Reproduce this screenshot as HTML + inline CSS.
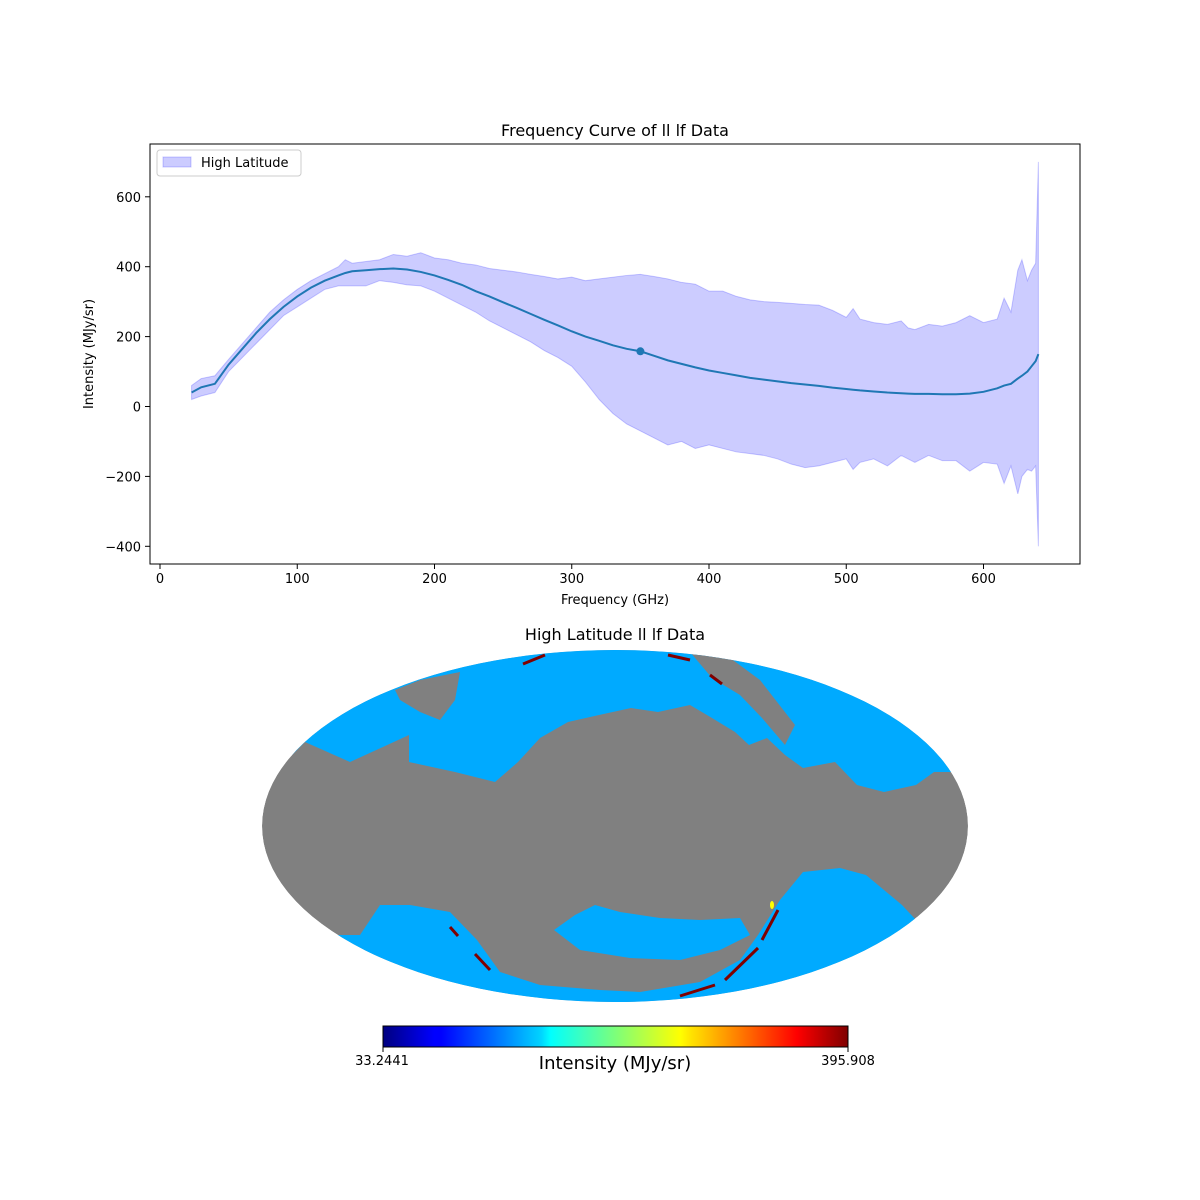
<!DOCTYPE html>
<html><head><meta charset="utf-8"><style>
html,body{margin:0;padding:0;background:#fff;}
svg{display:block;font-family:"DejaVu Sans","Liberation Sans",sans-serif;}
</style></head><body>
<svg id="chart" width="1200" height="1200" viewBox="0 0 1200 1200" xmlns="http://www.w3.org/2000/svg">
<defs>
<linearGradient id="jet" x1="0" x2="1" y1="0" y2="0">
<stop offset="0" stop-color="#00007f"/><stop offset="0.11" stop-color="#0000ff"/><stop offset="0.125" stop-color="#0000ff"/>
<stop offset="0.34" stop-color="#00d4ff"/><stop offset="0.36" stop-color="#0ff"/><stop offset="0.5" stop-color="#7dff7a"/>
<stop offset="0.64" stop-color="#ff0"/><stop offset="0.66" stop-color="#ffe600"/><stop offset="0.89" stop-color="#ff0000"/><stop offset="1" stop-color="#7f0000"/>
</linearGradient>
<clipPath id="ell"><ellipse cx="615" cy="826" rx="353" ry="176"/></clipPath>
<clipPath id="plotclip"><rect x="150" y="144" width="930" height="420"/></clipPath>
</defs>
<text x="615" y="136" text-anchor="middle" font-size="16">Frequency Curve of ll lf Data</text>
<g id="plot"></g>
<rect x="150" y="144" width="930" height="420" fill="none" stroke="#000" stroke-width="1"/>
<g id="xticks"></g>
<g id="yticks"></g>
<text x="615" y="604" text-anchor="middle" font-size="13">Frequency (GHz)</text>
<text transform="translate(93,354) rotate(-90)" text-anchor="middle" font-size="13">Intensity (MJy/sr)</text>
<g>
<rect x="157" y="150" width="144" height="26" rx="3" fill="#fff" fill-opacity="0.8" stroke="#ccc"/>
<rect x="163" y="157" width="28" height="10" fill="#0000ff" fill-opacity="0.2" stroke="#0000ff" stroke-opacity="0.2"/>
<text x="201" y="167" font-size="13">High Latitude</text>
</g>

<text x="615" y="640" text-anchor="middle" font-size="16">High Latitude ll lf Data</text>
<g clip-path="url(#ell)">
<ellipse cx="615" cy="826" rx="353" ry="176" fill="#808080"/>
<polygon fill="#00aaff" points="250,640 1000,640 1000,772 934,772 916,785 884,792 857,785 835,762 803,768 785,755 767,738 749,745 735,732 712,718 690,705 658,712 631,708 599,715 568,722 540,738 518,762 495,782 455,772 409,762 409,735 350,762 305,742 292,755 250,755"/>
<polygon fill="#808080" points="395,690 420,680 460,672 455,700 440,720 420,712 400,700"/>
<polygon fill="#808080" points="690,652 722,652 760,680 795,725 785,745 762,718 740,695 712,678"/>
<polygon fill="#00aaff" points="250,1010 250,935 360,935 380,905 410,905 450,912 477,940 500,972 540,985 600,990 640,992 700,982 740,960 758,935 780,900 803,872 840,868 866,875 902,905 930,935 980,935 980,1010"/>
<polygon fill="#00aaff" points="554,930 575,915 595,905 620,912 660,918 700,920 740,918 750,935 720,950 680,960 630,958 580,950"/>
<g stroke="#800000" stroke-width="3">
<line x1="523" y1="664" x2="545" y2="655"/><line x1="668" y1="655" x2="690" y2="660"/><line x1="710" y1="675" x2="722" y2="684"/>
<line x1="778" y1="910" x2="762" y2="940"/><line x1="758" y1="948" x2="725" y2="980"/><line x1="715" y1="985" x2="680" y2="996"/>
<line x1="450" y1="927" x2="458" y2="936"/><line x1="475" y1="954" x2="490" y2="970"/>
</g>
<ellipse cx="772" cy="905" rx="2" ry="4" fill="#ff0"/>
</g>
<rect x="383" y="1026" width="465" height="21" fill="url(#jet)" stroke="#000" stroke-width="1"/>
<line x1="383" y1="1047" x2="383" y2="1052" stroke="#000"/><line x1="848" y1="1047" x2="848" y2="1052" stroke="#000"/>
<text x="382" y="1065" text-anchor="middle" font-size="13">33.2441</text>
<text x="848" y="1065" text-anchor="middle" font-size="13">395.908</text>
<text x="615" y="1069" text-anchor="middle" font-size="18">Intensity (MJy/sr)</text>
</svg>
<script>
const freq=[23,30,40,50,60,70,80,90,100,110,120,130,135,140,150,160,170,180,190,200,210,220,230,240,250,260,270,280,290,300,310,320,330,340,350,360,370,380,390,400,410,420,430,440,450,460,470,480,490,500,505,510,520,530,540,545,550,560,570,580,590,600,610,615,620,625,628,632,635,638,640];
const meanVals=[40,55,65,120,165,210,250,285,315,340,360,375,382,387,390,393,395,392,385,375,362,348,330,315,298,282,265,248,232,215,200,188,175,165,158,145,132,122,112,103,96,89,82,77,72,67,63,59,54,50,48,46,43,40,38,37,36,36,35,35,37,42,52,60,65,80,88,100,115,130,150];
const upperVals=[60,80,88,135,180,225,270,305,335,360,380,400,420,410,415,420,435,430,440,425,420,410,405,395,390,385,378,372,365,370,360,365,370,375,378,372,365,355,350,330,330,315,305,300,298,295,292,290,275,255,280,250,240,235,245,225,220,235,230,240,260,240,250,310,270,390,420,360,390,410,700];
const lowerVals=[20,30,40,100,140,180,220,260,285,310,335,345,345,345,345,360,355,348,345,330,310,290,270,245,225,205,185,160,140,115,70,20,-20,-50,-70,-90,-110,-100,-120,-110,-120,-130,-135,-140,-150,-165,-175,-170,-160,-150,-180,-160,-150,-170,-140,-150,-160,-140,-155,-155,-185,-160,-165,-220,-170,-250,-200,-180,-185,-170,-400];
const xTicks=[0,100,200,300,400,500,600];
const yTicks=[-400,-200,0,200,400,600];
const markerFreq=[350];
const markerVal=[158];

const NS='http://www.w3.org/2000/svg';
const xs=f=>160+f*1.3725;
const ys=v=>406.5-v*0.3495;
function mk(tag,attrs,parent){const e=document.createElementNS(NS,tag);for(const k in attrs)e.setAttribute(k,attrs[k]);parent.appendChild(e);return e;}
const plot=document.getElementById('plot');
plot.setAttribute('clip-path','url(#plotclip)');
let d='M'+freq.map((f,i)=>xs(f)+','+ys(upperVals[i])).join('L');
for(let i=freq.length-1;i>=0;i--)d+='L'+xs(freq[i])+','+ys(lowerVals[i]);
d+='Z';
const band=mk('path',{d:d,fill:'#0000ff','fill-opacity':'0.2',stroke:'#0000ff','stroke-opacity':'0.2'},plot);


const line=mk('path',{d:'M'+freq.map((f,i)=>xs(f)+','+ys(meanVals[i])).join('L'),fill:'none',stroke:'#1f77b4','stroke-width':'2'},plot);


markerFreq.forEach((f,i)=>{const c=mk('circle',{cx:xs(f),cy:ys(markerVal[i]),r:4,fill:'#1f77b4'},plot);

});
const xg=document.getElementById('xticks');
xTicks.forEach(t=>{const x=xs(t);mk('line',{x1:x,x2:x,y1:564,y2:569,stroke:'#000'},xg);
const tx=mk('text',{x:x,y:583,'text-anchor':'middle','font-size':'13'},xg);tx.textContent=t;

});
const yg=document.getElementById('yticks');
yTicks.forEach(t=>{const y=ys(t);mk('line',{x1:145,x2:150,y1:y,y2:y,stroke:'#000'},yg);
const tx=mk('text',{x:141,y:y+5,'text-anchor':'end','font-size':'13'},yg);tx.textContent=(t<0?'\u2212'+(-t):t);

});
</script>
</body></html>
